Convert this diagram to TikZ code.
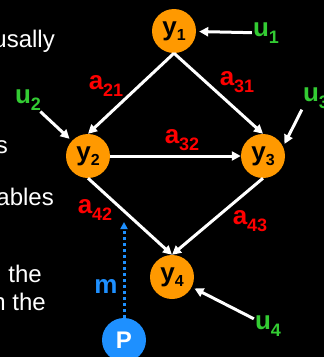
\documentclass[tikz,border=0pt]{standalone}
\usepackage{fontspec}
\setmainfont{Liberation Sans}
\usetikzlibrary{
  arrows.meta,
  positioning
}
\definecolor{nwVar}{HTML}{FF9900}
\definecolor{nwCoef}{HTML}{FF0000}
\definecolor{nwInput}{HTML}{33CC33}
\definecolor{nwMeas}{HTML}{1E90FF}
\newcommand{\vname}[2]{#1\raisebox{-5pt}{\fontsize{16}{16}\selectfont #2}}
\newcommand{\cname}[2]{#1\raisebox{-7pt}{\fontsize{18}{18}\selectfont #2}}
\tikzset{
  var/.style={
    circle, fill=nwVar, minimum size=44pt, inner sep=0pt,
    font=\fontsize{26}{30}\selectfont\bfseries, text=black
  },
  probe/.style={var, fill=nwMeas, text=white, font=\fontsize{24}{28}\selectfont\bfseries},
  coef/.style={font=\fontsize{26}{30}\selectfont\bfseries, text=nwCoef, inner sep=1pt},
  input/.style={coef, text=nwInput},
  meas/.style={coef, text=nwMeas},
  cuttext/.style={font=\fontsize{24}{28}\selectfont, text=white, anchor=base east, inner sep=0pt},
  link/.style={-{Triangle[length=9pt, width=9pt]}, line width=3pt, white},
  feed/.style={link, shorten >=3pt},
  probeline/.style={-{Triangle[length=7pt, width=7pt]}, line width=3pt, nwMeas,
    dash pattern=on 3pt off 3pt}
}

\begin{document}
\begin{tikzpicture}[x=1pt, y=-1pt, on grid]
  \useasboundingbox (0,0) rectangle (324,357);
  \fill[black] (0,0) rectangle (324,357);
  % text of the slide, cut at the left edge
  \node[cuttext] (t1) at (55,47) {usally};
  \node[cuttext] (t2) at (8,153) {s};
  \node[cuttext] (t3) at (54,205) {ables};
  \node[cuttext] (t4) at (42,282) {the};
  \node[cuttext] (t5) at (46,310) {n the};
  % network
  \node[var] (y1) at (174,31) {\vname{y}{1}};
  \node[var, below left=125pt and 86pt of y1] (y2) {\vname{y}{2}};
  \node[var, right=175pt of y2] (y3) {\vname{y}{3}};
  \node[var, below right=121pt and 84pt of y2] (y4) {\vname{y}{4}};
  \node[probe, below left=63pt and 48pt of y4] (P) {P};
  \node[input] (u1) at (266,33) {\cname{u}{1}};
  \node[input] (u2) at (28,100) {\cname{u}{2}};
  \node[input] (u3) at (316,98) {\cname{u}{3}};
  \node[input] (u4) at (268,326) {\cname{u}{4}};
  \node[coef] (a21) at (106,86) {\cname{a}{21}};
  \node[coef] (a31) at (237,82) {\cname{a}{31}};
  \node[coef] (a32) at (182,140) {\cname{a}{32}};
  \node[coef] (a42) at (95,210) {\cname{a}{42}};
  \node[coef] (a43) at (250,221) {\cname{a}{43}};
  \node[meas] (m) at (106,286) {m};
  \coordinate (mtip) at (124,222);
  \foreach \a/\b in {y1/y2,y1/y3,y2/y4,y3/y4}{
    \draw[link] (\a.south) -- (\b.north);
  }
  \draw[link] (y2) -- (y3);
  \draw[feed] (u1) -- (y1);
  \draw[feed] (u2) -- (y2);
  \draw[feed] (u3.south west) -- (y3.25);
  \draw[feed] (u4) -- (y4);
  \draw[probeline] (P) -- (mtip);
\end{tikzpicture}
\end{document}
